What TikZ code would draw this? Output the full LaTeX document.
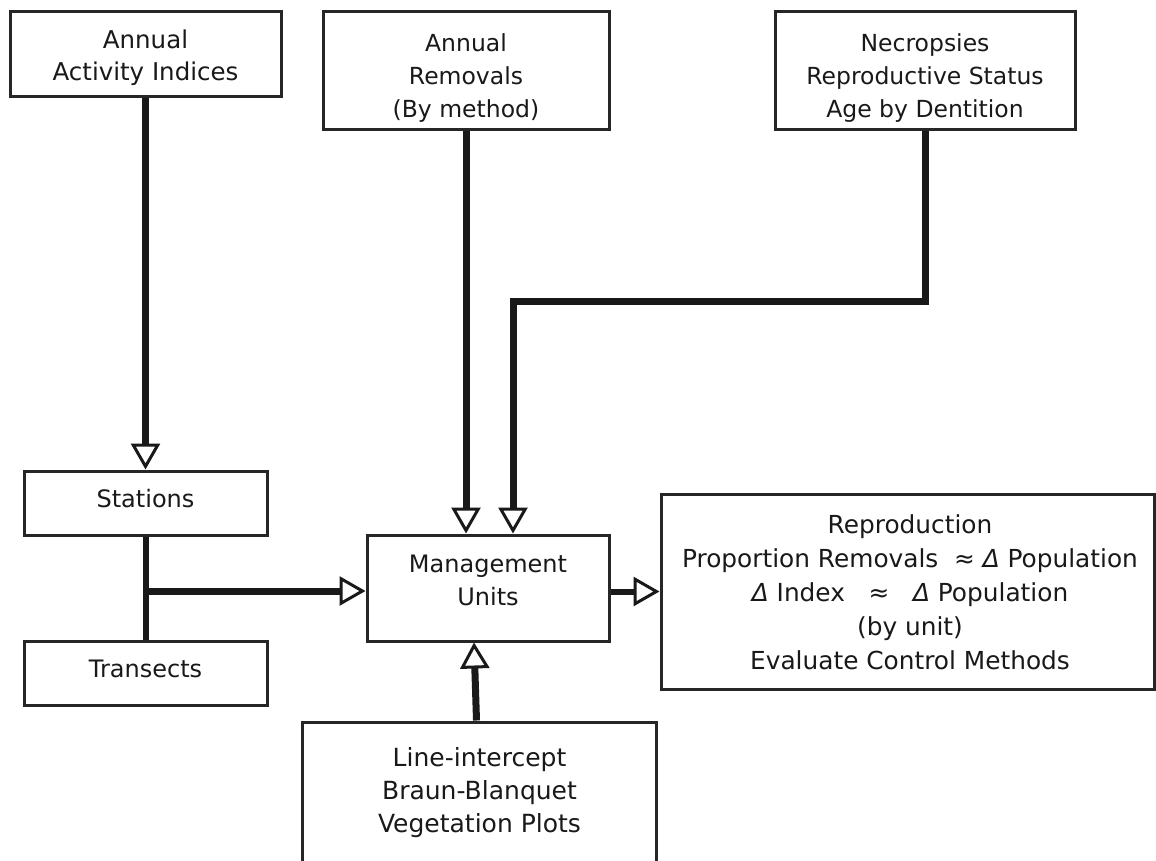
\documentclass[tikz,border=0pt]{standalone}
\usepackage{fontspec}
\setmainfont{DejaVu Sans}
\usetikzlibrary{arrows.meta}
\begin{document}
\begin{tikzpicture}[x=1pt,y=-1pt,
  box/.style={draw=black!85, line width=3pt, fill=white, inner sep=0pt},
  txt/.style={align=center, inner sep=0pt, anchor=north, text=black!90},
  conn/.style={draw=black!90, line width=7pt},
  arr/.style={conn, -{Triangle[open, length=26pt, width=29pt, line width=3pt]}},
]
\useasboundingbox (0,0) rectangle (1156,861);
\clip (0,0) rectangle (1156,861);
% boxes
\node[box, minimum width=271pt, minimum height=85pt] (A) at (145.5,54.5) {};
\node[box, minimum width=286pt, minimum height=118pt] (B) at (466,71) {};
\node[box, minimum width=300pt, minimum height=118pt] (C) at (925,71) {};
\node[box, minimum width=243pt, minimum height=64pt] (S) at (145.5,503) {};
\node[box, minimum width=243pt, minimum height=64pt] (T) at (145.5,673) {};
\node[box, minimum width=242pt, minimum height=106pt] (M) at (488,588) {};
\node[box, minimum width=493pt, minimum height=195pt] (R) at (907.5,591.5) {};
\node[box, minimum width=354pt, minimum height=148pt] (V) at (479.5,796) {};
% texts
\node[txt, font=\fontsize{24.5}{32}\selectfont] (At) at (145.5,25.5) {\strut Annual\\Activity Indices\strut};
\node[txt, font=\fontsize{23.5}{33}\selectfont] (Bt) at (466,28) {\strut Annual\\Removals\\(By method)\strut};
\node[txt, font=\fontsize{23.5}{33}\selectfont] (Ct) at (925,28) {\strut Necropsies\\Reproductive Status\\Age by Dentition\strut};
\node[txt, font=\fontsize{24}{30}\selectfont] (St) at (145.5,485.8) {\strut Stations};
\node[txt, font=\fontsize{24}{30}\selectfont] (Tt) at (145.5,656) {\strut Transects};
\node[txt, font=\fontsize{24}{33}\selectfont] (Mt) at (488,548.7) {\strut Management\\Units\strut};
\node[txt, font=\fontsize{24.8}{34}\selectfont] (Rt) at (910,509)
  {\strut Reproduction\\Proportion Removals\ \ ≈ \textit{Δ} Population\\\textit{Δ} Index\ \ \ ≈\ \ \ \textit{Δ} Population\\(by unit)\\Evaluate Control Methods\strut};
\node[txt, font=\fontsize{25}{33}\selectfont] (Vt) at (479.5,742.8) {\strut Line-intercept\\Braun-Blanquet\\Vegetation Plots\strut};
% connectors
\draw[arr] (A.south) -- (S.north);
\draw[arr] (B.south) -- (B.south |- M.north);
\coordinate (cb) at (513,301);
\draw[arr] (C.south) |- (cb) -- (cb |- M.north);
\draw[conn, line width=5.5pt] ([xshift=0.5pt]S.south) -- ([xshift=0.5pt]T.north);
\coordinate (j) at (146,591);
\draw[arr] ([xshift=-2.75pt]j) -- (j -| M.west);
\draw[arr, line width=6pt] (M.east |- R.west) -- (R.west);
\draw[arr] ([xshift=-3pt]V.north) -- ([xshift=-14pt]M.south);
\end{tikzpicture}
\end{document}
